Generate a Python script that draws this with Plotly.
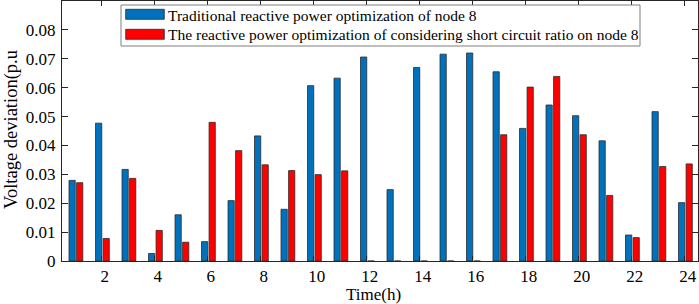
import plotly.graph_objects as go

hours = list(range(1, 25))
traditional = [0.0279, 0.0477, 0.0317, 0.0026, 0.0160, 0.0067, 0.0209, 0.0433,
               0.0179, 0.0607, 0.0633, 0.0706, 0.0247, 0.0670, 0.0716, 0.0720,
               0.0655, 0.0459, 0.0540, 0.0503, 0.0416, 0.0090, 0.0517, 0.0202]
scr_based = [0.0271, 0.0078, 0.0286, 0.0106, 0.0065, 0.0480, 0.0382, 0.0333,
             0.0313, 0.0299, 0.0312, 0.0, 0.0, 0.0, 0.0, 0.0,
             0.0437, 0.0602, 0.0639, 0.0437, 0.0227, 0.0081, 0.0327, 0.0336]
x_ticks = [2, 4, 6, 8, 10, 12, 14, 16, 18, 20, 22, 24]
y_ticks = [0, 0.01, 0.02, 0.03, 0.04, 0.05, 0.06, 0.07, 0.08]
y_tick_text = ["0", "0.01", "0.02", "0.03", "0.04", "0.05", "0.06", "0.07", "0.08"]
series_names = ["Traditional reactive power optimization of node 8",
                "The reactive power optimization of considering short circuit ratio on node 8"]

BLUE = "#0072BD"
RED = "#FF0000"
EDGE = "#2b2b2b"
FONT = "Liberation Serif, Times New Roman, serif"

fig = go.Figure()
fig.add_trace(go.Bar(x=hours, y=traditional, name=series_names[0],
                     marker=dict(color=BLUE, line=dict(color=EDGE, width=0.8)),
                     width=0.235, offset=-0.235))
fig.add_trace(go.Bar(x=hours, y=scr_based, name=series_names[1],
                     marker=dict(color=RED, line=dict(color=EDGE, width=0.8)),
                     width=0.235, offset=0.05))

# custom legend (wide swatches like the original)
def px2paper_x(px):
    return (px - 62) / 636

def px2paper_y(py):
    return (261 - py) / 260

shapes = [
    dict(type="rect", xref="paper", yref="paper",
         x0=px2paper_x(121), x1=px2paper_x(640), y0=px2paper_y(46), y1=px2paper_y(5),
         line=dict(color="#7f7f7f", width=1), fillcolor="white", layer="above"),
    dict(type="rect", xref="paper", yref="paper",
         x0=px2paper_x(125.7), x1=px2paper_x(164.3), y0=px2paper_y(19.3), y1=px2paper_y(9.3),
         line=dict(color=EDGE, width=0.8), fillcolor=BLUE, layer="above"),
    dict(type="rect", xref="paper", yref="paper",
         x0=px2paper_x(125.7), x1=px2paper_x(164.3), y0=px2paper_y(39.3), y1=px2paper_y(29.3),
         line=dict(color=EDGE, width=0.8), fillcolor=RED, layer="above"),
]
annotations = [
    dict(text=series_names[0], xref="paper", yref="paper", x=px2paper_x(166), y=px2paper_y(15),
         xanchor="left", yanchor="middle", showarrow=False, font=dict(family=FONT, size=15.5, color="black")),
    dict(text=series_names[1], xref="paper", yref="paper", x=px2paper_x(166), y=px2paper_y(35),
         xanchor="left", yanchor="middle", showarrow=False, font=dict(family=FONT, size=15.5, color="black")),
    dict(text="Voltage deviation(p.u", xref="paper", yref="paper", x=px2paper_x(11), y=px2paper_y(130),
         xanchor="center", yanchor="middle", textangle=-90, showarrow=False,
         font=dict(family=FONT, size=18.5, color="black")),
    dict(text="Time(h)", xref="paper", yref="paper", x=px2paper_x(373), y=px2paper_y(294),
         xanchor="center", yanchor="middle", showarrow=False,
         font=dict(family=FONT, size=17, color="black")),
]

fig.update_layout(
    width=699, height=304,
    margin=dict(l=62, r=1, t=1, b=43),
    paper_bgcolor="white", plot_bgcolor="white",
    barmode="overlay",
    showlegend=False,
    font=dict(family=FONT, size=17, color="black"),
    shapes=shapes,
    annotations=annotations,
    xaxis=dict(range=[0.5, 24.5], tickvals=x_ticks, ticks="inside", ticklen=5,
               tickcolor="#262626", showline=True, linecolor="#262626", linewidth=1,
               mirror="ticks", showgrid=False, zeroline=False, ticklabelshift=3,
               tickfont=dict(family=FONT, size=17, color="black")),
    yaxis=dict(range=[0, 0.09], tickvals=y_ticks, ticktext=y_tick_text, ticks="inside", ticklen=6,
               tickcolor="#262626", showline=True, linecolor="#262626", linewidth=1,
               mirror="ticks", showgrid=False, zeroline=False, ticklabelstandoff=2,
               tickfont=dict(family=FONT, size=17, color="black")),
)

fig.write_html("out.html", config={"displayModeBar": False},
               post_script="document.body.style.margin='0';document.body.style.overflow='hidden';")
